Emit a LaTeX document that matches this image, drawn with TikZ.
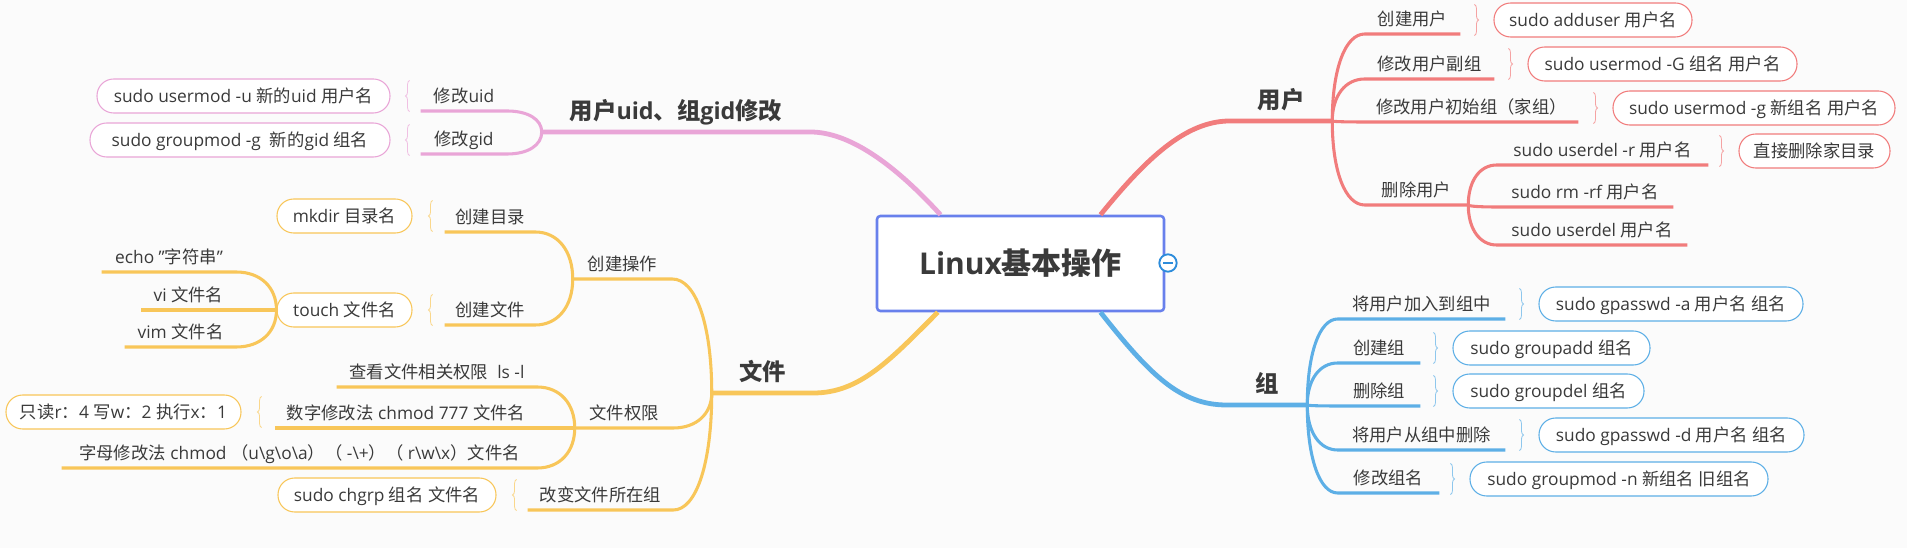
\documentclass[tikz,border=0pt]{standalone}
\usepackage{fontspec}
\setmainfont{Open Sans}
\newfontfamily\cjkf{Noto Sans CJK SC}
\usetikzlibrary{calc,decorations.pathreplacing}

% CJK characters switch to the CJK family by themselves
\XeTeXinterchartokenstate=1
\newXeTeXintercharclass\CJKcls
\count255="3000
\loop \XeTeXcharclass\count255=\CJKcls \ifnum\count255<"303F \advance\count255 by 1 \repeat
\count255="4E00
\loop \XeTeXcharclass\count255=\CJKcls \ifnum\count255<"9FFF \advance\count255 by 1 \repeat
\count255="FF00
\loop \XeTeXcharclass\count255=\CJKcls \ifnum\count255<"FFEF \advance\count255 by 1 \repeat
\XeTeXinterchartoks 0 \CJKcls = {\begingroup\cjkf}
\XeTeXinterchartoks 4095 \CJKcls = {\begingroup\cjkf}
\XeTeXinterchartoks \CJKcls 0 = {\endgroup}
\XeTeXinterchartoks \CJKcls 4095 = {\endgroup}

\definecolor{rd}{HTML}{F17C7C}
\definecolor{bl}{HTML}{5DAFE6}
\definecolor{pk}{HTML}{E9A5D7}
\definecolor{yl}{HTML}{F8C659}
\definecolor{bx}{HTML}{6880EC}
\definecolor{cb}{HTML}{2D8CDB}
\definecolor{txt}{HTML}{3A3A3A}
\definecolor{bgc}{HTML}{FBFBFB}

\tikzset{
  wd/.style={minimum width=#1*0.75pt},
  lbl/.style={inner sep=0pt, text height=12pt, text depth=6.3pt, anchor=south,
    font=\fontsize{13}{15}\selectfont, text=txt},
  topic/.style={inner sep=0pt, text height=14pt, text depth=9.2pt, anchor=south,
    font=\fontsize{17.5}{20}\selectfont\bfseries, text=txt},
  pill/.style={draw=#1, fill=white, line width=0.8pt, rounded corners=12.5pt,
    minimum height=25.5pt, inner sep=0pt, text height=11.4pt, text depth=1.6pt,
    font=\fontsize{13}{15}\selectfont, text=txt},
  sub/.style={line width=2.3pt},
  trunk/.style={line width=3.6pt},
  brc/.style={decorate, decoration={brace, amplitude=3pt}, line width=0.6pt}
}

\begin{document}
\begin{tikzpicture}[x=0.75pt, y=-0.75pt]
  \fill[bgc] (0,0) rectangle (1907,548);
  \useasboundingbox (0,0) rectangle (1907,548);

  % centre
  \node[draw=bx, fill=white, line width=1.9pt, rounded corners=2.5pt, wd=287,
    minimum height=95*0.75pt, text height=19.8pt, text depth=2.7pt,
    font=\fontsize{22.5}{26}\selectfont\bfseries, text=txt] (root) at (1020.5,263.5) {Linux基本操作};
  \node[circle, draw=cb, fill=white, line width=1.4pt, minimum size=13pt, inner sep=0pt] (fold) at (1168,263) {};
  \draw[cb, line width=1.4pt] ([xshift=-3.5pt]fold.center) -- ([xshift=3.5pt]fold.center);

  % 用户
  \node[topic, wd=102] (yh) at (1281,121) {用户};
  \draw[trunk, rd] ([xshift=60pt]root.north) .. controls (1145,160) and (1185,121) .. (yh.south west) -- (yh.south east);

  \node[lbl, wd=95] (u1) at (1412.5,34) {创建用户};
  \node[lbl, wd=129] (u2) at (1429.5,79) {修改用户副组};
  \node[lbl, wd=213] (u3) at (1471.5,122) {修改用户初始组（家组）};
  \node[lbl, wd=103] (u4) at (1416.5,205) {删除用户};
  \foreach \n in {u1,u2,u3,u4}
    \draw[sub, rd] (yh.south east) .. controls ($(yh.south east)!.6!(yh.south east |- \n.south west)$)
      and ($(\n.south west)!.6!(yh.south east |- \n.south west)$) .. (\n.south west) -- (\n.south east);

  \node[lbl, wd=211] (u41) at (1602.5,165) {sudo userdel -r 用户名};
  \node[lbl, wd=176] (u42) at (1585,207) {sudo rm -rf 用户名};
  \node[lbl, wd=190] (u43) at (1592,245) {sudo userdel 用户名};
  \foreach \n in {u41,u42,u43}
    \draw[sub, rd] (u4.south east) .. controls ($(u4.south east)!.6!(u4.south east |- \n.south west)$)
      and ($(\n.south west)!.6!(u4.south east |- \n.south west)$) .. (\n.south west) -- (\n.south east);

  \node[pill=rd, wd=198] (p1) at (1593,20) {sudo adduser 用户名};
  \node[pill=rd, wd=269] (p2) at (1662.5,64) {sudo usermod -G 组名 用户名};
  \node[pill=rd, wd=282] (p3) at (1754,108) {sudo usermod -g 新组名 用户名};
  \node[pill=rd, wd=151] (p4) at (1814.5,151) {直接删除家目录};
  \foreach \n in {p1,p2,p3,p4}
    \draw[brc, rd!70] ([shift={(-19,2)}]\n.north west) -- ([shift={(-19,-2)}]\n.south west);

  % 组
  \node[topic, wd=80] (zu) at (1267,405) {组};
  \draw[trunk, bl] ([xshift=60pt]root.south) .. controls (1150,375) and (1180,405) .. (zu.south west) -- (zu.south east);

  \node[lbl, wd=167] (g1) at (1421.5,319) {将用户加入到组中};
  \node[lbl, wd=82] (g2) at (1379,363) {创建组};
  \node[lbl, wd=82] (g3) at (1379,406) {删除组};
  \node[lbl, wd=167] (g4) at (1421.5,450) {将用户从组中删除};
  \node[lbl, wd=101] (g5) at (1388.5,493) {修改组名};
  \foreach \n in {g1,g2,g3,g4,g5}
    \draw[sub, bl] (zu.south east) .. controls ($(zu.south east)!.6!(zu.south east |- \n.south west)$)
      and ($(\n.south west)!.6!(zu.south east |- \n.south west)$) .. (\n.south west) -- (\n.south east);

  \node[pill=bl, wd=264] (q1) at (1671,304) {sudo gpasswd -a 用户名 组名};
  \node[pill=bl, wd=197] (q2) at (1551.5,348) {sudo groupadd 组名};
  \node[pill=bl, wd=191] (q3) at (1548.5,391) {sudo groupdel 组名};
  \node[pill=bl, wd=265] (q4) at (1671.5,435) {sudo gpasswd -d 用户名 组名};
  \node[pill=bl, wd=298] (q5) at (1619,479) {sudo groupmod -n 新组名 旧组名};
  \foreach \n in {q1,q2,q3,q4,q5}
    \draw[brc, bl!70] ([shift={(-19,2)}]\n.north west) -- ([shift={(-19,-2)}]\n.south west);

  % 用户uid、组gid修改
  \node[topic, wd=268] (idt) at (676,132) {用户uid、组gid修改};
  \draw[trunk, pk] ([xshift=-60pt]root.north) .. controls (895,165) and (850,132) .. (idt.south east) -- (idt.south west);

  \node[lbl, wd=86] (k1) at (464,111) {修改uid};
  \node[lbl, wd=86] (k2) at (464,154) {修改gid};
  \foreach \n in {k1,k2}
    \draw[sub, pk] (idt.south west) .. controls ($(idt.south west)!.6!(idt.south west |- \n.south east)$)
      and ($(\n.south east)!.6!(idt.south west |- \n.south east)$) .. (\n.south east) -- (\n.south west);

  \node[pill=pk, wd=293] (m1) at (243.5,96) {sudo usermod -u 新的uid 用户名};
  \node[pill=pk, wd=300] (m2) at (240,140) {sudo groupmod -g~ 新的gid 组名};
  \foreach \n in {m1,m2}
    \draw[brc, pk!70] ([shift={(19,-2)}]\n.south east) -- ([shift={(19,2)}]\n.north east);

  % 文件
  \node[topic, wd=101] (wj) at (762.5,393) {文件};
  \draw[trunk, yl] ([xshift=-62pt]root.south) .. controls (890,360) and (860,393) .. (wj.south east) -- (wj.south west);

  \node[lbl, wd=99] (cjcz) at (622.5,279) {创建操作};
  \node[lbl, wd=98] (wjqx) at (624,428) {文件权限};
  \node[lbl, wd=145] (gbz) at (600.5,510) {改变文件所在组};
  \foreach \n in {cjcz,wjqx,gbz}
    \draw[sub, yl] (wj.south west) .. controls ($(wj.south west)!.6!(wj.south west |- \n.south east)$)
      and ($(\n.south east)!.6!(wj.south west |- \n.south east)$) .. (\n.south east) -- (\n.south west);

  \node[lbl, wd=90] (cjml) at (490,232) {创建目录};
  \node[lbl, wd=90] (cjwj) at (490,325) {创建文件};
  \foreach \n in {cjml,cjwj}
    \draw[sub, yl] (cjcz.south west) .. controls ($(cjcz.south west)!.6!(cjcz.south west |- \n.south east)$)
      and ($(\n.south east)!.6!(cjcz.south west |- \n.south east)$) .. (\n.south east) -- (\n.south west);

  \node[pill=yl, wd=135] (mk) at (344.5,216) {mkdir 目录名};
  \node[pill=yl, wd=135] (tch) at (344.5,310) {touch 文件名};

  \node[lbl, wd=134] (echo) at (169,272) {echo "字符串"};
  \node[lbl, wd=95] (vi) at (188.5,310) {vi 文件名};
  \node[lbl, wd=111] (vim) at (180.5,347) {vim 文件名};
  \foreach \n in {echo,vi,vim}
    \draw[sub, yl] (tch.west) .. controls ($(tch.west)!.6!(tch.west |- \n.south east)$)
      and ($(\n.south east)!.6!(tch.west |- \n.south east)$) .. (\n.south east) -- (\n.south west);

  \node[lbl, wd=200] (ckqx) at (437,387) {查看文件相关权限~ ls -l};
  \node[lbl, wd=262] (szxg) at (406,428) {数字修改法 chmod 777 文件名};
  \node[lbl, wd=475] (zmxg) at (299.5,468) {字母修改法 chmod （u\textbackslash g\textbackslash o\textbackslash a）（ -\textbackslash +）（ r\textbackslash w\textbackslash x）文件名};
  \foreach \n in {ckqx,szxg,zmxg}
    \draw[sub, yl] (wjqx.south west) .. controls ($(wjqx.south west)!.6!(wjqx.south west |- \n.south east)$)
      and ($(\n.south east)!.6!(wjqx.south west |- \n.south east)$) .. (\n.south east) -- (\n.south west);

  \node[pill=yl, wd=235] (qx) at (123.5,412) {只读r：4 写w：2 执行x：1};
  \node[pill=yl, wd=218] (chg) at (387,495) {sudo chgrp 组名 文件名};
  \foreach \n in {mk,tch,qx,chg}
    \draw[brc, yl!70] ([shift={(20,-2)}]\n.south east) -- ([shift={(20,2)}]\n.north east);
\end{tikzpicture}
\end{document}
